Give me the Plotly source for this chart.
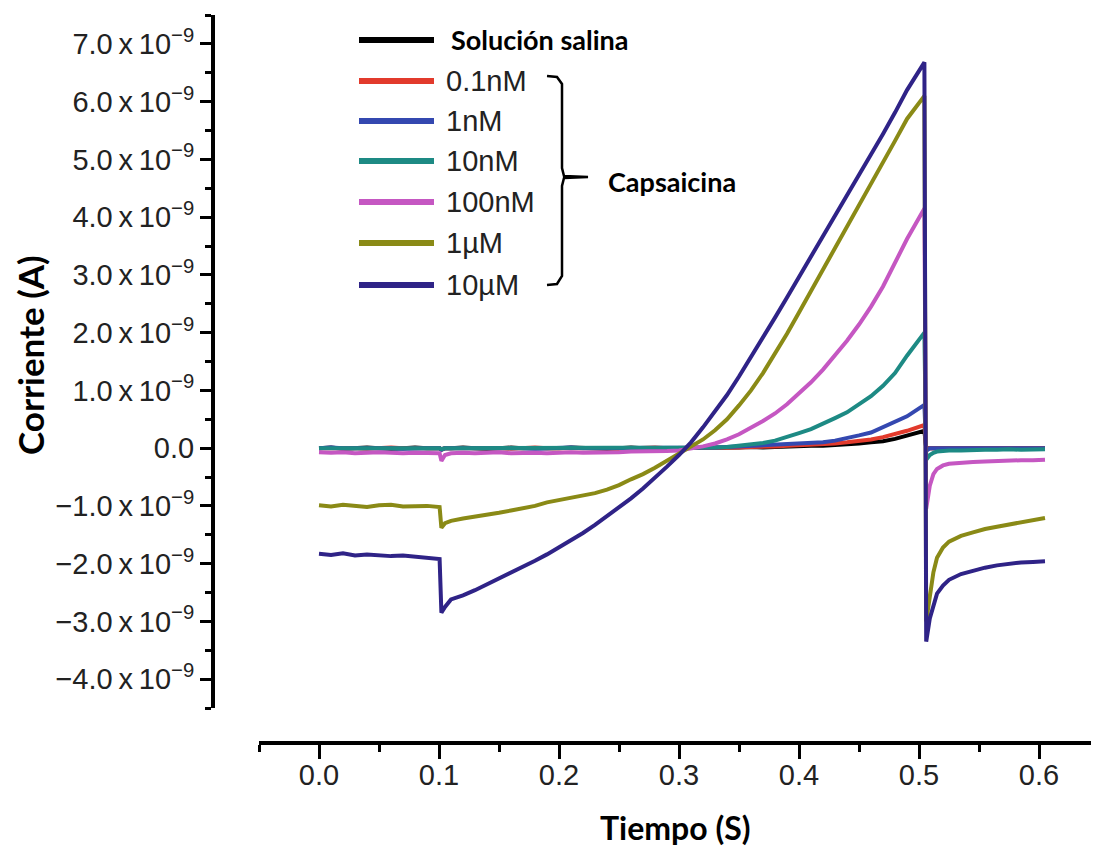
import plotly.graph_objects as go

# ---------------- data (current in nA, converted to A below) ----------------
time_s = [0.00, 0.01, 0.02, 0.03, 0.04, 0.05, 0.06, 0.07, 0.08, 0.09,
          0.1005, 0.102, 0.105,
          0.11, 0.12, 0.13, 0.14, 0.15, 0.16, 0.17, 0.18, 0.19, 0.20,
          0.21, 0.22, 0.23, 0.24, 0.25, 0.26, 0.27, 0.28, 0.29, 0.30,
          0.31, 0.32, 0.33, 0.34, 0.35, 0.36, 0.37, 0.38, 0.39, 0.40,
          0.41, 0.42, 0.43, 0.44, 0.45, 0.46, 0.47, 0.48, 0.49,
          0.5045, 0.506, 0.509, 0.512, 0.515, 0.52,
          0.525, 0.535, 0.545, 0.555, 0.565, 0.575, 0.585, 0.595, 0.605]

salina_nA = [0.00, 0.01, -0.01, 0.00, 0.01, 0.00, -0.01, 0.00, 0.01, 0.00,
             0.00, -0.02, 0.00,
             0.00, 0.01, 0.00, -0.01, 0.00, 0.01, 0.00, 0.00, -0.01, 0.00,
             0.01, 0.00, 0.00, -0.01, 0.00, 0.01, 0.00, 0.00, 0.01, 0.00,
             0.00, 0.01, 0.00, 0.01, 0.01, 0.02, 0.01, 0.02, 0.03, 0.03,
             0.04, 0.04, 0.05, 0.06, 0.08, 0.10, 0.12, 0.16, 0.21,
             0.30, 0.00, 0.00, 0.00, 0.00, 0.00,
             0.00, 0.00, 0.00, 0.00, 0.00, 0.00, 0.00, 0.00, 0.00]

c01nM_nA = [0.00, 0.00, 0.01, 0.00, -0.01, 0.00, 0.01, 0.00, 0.00, -0.01,
            0.00, -0.03, 0.00,
            0.00, 0.00, 0.01, 0.00, 0.00, -0.01, 0.00, 0.01, 0.00, 0.00,
            0.00, 0.01, 0.00, 0.00, -0.01, 0.00, 0.00, 0.01, 0.00, 0.00,
            0.00, 0.00, 0.01, 0.00, 0.01, 0.02, 0.02, 0.03, 0.04, 0.05,
            0.05, 0.07, 0.08, 0.10, 0.12, 0.15, 0.19, 0.24, 0.30,
            0.40, 0.00, 0.00, 0.00, 0.00, 0.00,
            0.00, 0.00, 0.00, 0.00, 0.00, 0.00, 0.00, 0.00, 0.00]

c1nM_nA = [0.00, 0.01, 0.00, 0.00, 0.01, 0.00, 0.00, -0.01, 0.00, 0.00,
           0.00, -0.03, 0.00,
           0.00, 0.01, 0.00, 0.00, 0.00, 0.01, 0.00, -0.01, 0.00, 0.00,
           0.01, 0.00, 0.00, 0.00, 0.01, 0.00, 0.00, 0.00, 0.01, 0.00,
           0.00, 0.01, 0.01, 0.02, 0.03, 0.03, 0.04, 0.05, 0.06, 0.07,
           0.08, 0.10, 0.13, 0.17, 0.22, 0.27, 0.36, 0.45, 0.55,
           0.75, -0.05, 0.00, 0.00, 0.00, 0.00,
           0.00, 0.00, 0.00, 0.00, 0.00, 0.00, 0.00, 0.00, 0.00]

c10nM_nA = [0.00, 0.00, 0.01, 0.00, 0.00, 0.01, 0.00, 0.00, 0.01, 0.00,
            0.00, -0.02, 0.00,
            0.00, 0.00, 0.01, 0.00, 0.00, 0.00, 0.01, 0.00, 0.00, 0.01,
            0.00, 0.00, 0.01, 0.00, 0.00, 0.00, 0.01, 0.00, 0.00, 0.01,
            0.00, 0.01, 0.01, 0.02, 0.04, 0.06, 0.09, 0.13, 0.19, 0.26,
            0.33, 0.42, 0.52, 0.62, 0.75, 0.90, 1.08, 1.30, 1.60,
            2.00, -0.20, -0.12, -0.08, -0.06, -0.05,
            -0.04, -0.04, -0.03, -0.03, -0.03, -0.02, -0.03, -0.02, -0.02]

c100nM_nA = [-0.07, -0.08, -0.07, -0.09, -0.08, -0.07, -0.08, -0.09, -0.08, -0.08,
             -0.09, -0.22, -0.12,
             -0.09, -0.08, -0.09, -0.08, -0.07, -0.09, -0.08, -0.08, -0.09, -0.08,
             -0.07, -0.08, -0.08, -0.07, -0.07, -0.06, -0.06, -0.05, -0.05, -0.04,
             -0.01, 0.03, 0.08, 0.15, 0.24, 0.35, 0.47, 0.60, 0.76, 0.95,
             1.14, 1.36, 1.60, 1.86, 2.14, 2.45, 2.80, 3.20, 3.62,
             4.15, -1.05, -0.65, -0.45, -0.36, -0.30,
             -0.27, -0.25, -0.24, -0.23, -0.22, -0.22, -0.21, -0.21, -0.20]

c1uM_nA = [-0.99, -1.01, -0.98, -1.00, -1.02, -0.99, -0.98, -1.01, -1.00, -1.00,
           -1.02, -1.38, -1.30,
           -1.26, -1.22, -1.19, -1.15, -1.12, -1.08, -1.04, -1.00, -0.94, -0.90,
           -0.86, -0.82, -0.78, -0.72, -0.64, -0.54, -0.45, -0.34, -0.22, -0.10,
           0.03, 0.15, 0.31, 0.50, 0.74, 1.00, 1.30, 1.63, 1.98, 2.35,
           2.72, 3.08, 3.45, 3.82, 4.18, 4.55, 4.92, 5.32, 5.70,
           6.10, -3.00, -2.55, -2.15, -1.90, -1.72,
           -1.62, -1.52, -1.46, -1.40, -1.36, -1.32, -1.28, -1.24, -1.21]

c10uM_nA = [-1.83, -1.85, -1.82, -1.86, -1.84, -1.85, -1.87, -1.86, -1.88, -1.89,
            -1.92, -2.85, -2.75,
            -2.62, -2.55, -2.46, -2.36, -2.26, -2.16, -2.05, -1.95, -1.84, -1.72,
            -1.60, -1.47, -1.33, -1.18, -1.03, -0.87, -0.70, -0.52, -0.32, -0.12,
            0.10, 0.36, 0.63, 0.92, 1.24, 1.57, 1.91, 2.26, 2.61, 2.96,
            3.31, 3.66, 4.01, 4.36, 4.72, 5.08, 5.44, 5.81, 6.20,
            6.68, -3.35, -2.95, -2.70, -2.52, -2.38,
            -2.28, -2.18, -2.12, -2.07, -2.03, -2.00, -1.98, -1.97, -1.96]

series_names = ["Solución salina", "0.1nM", "1nM", "10nM", "100nM", "1µM", "10µM"]
series_values = [salina_nA, c01nM_nA, c1nM_nA, c10nM_nA, c100nM_nA, c1uM_nA, c10uM_nA]
series_colors = ["#000000", "#e23a2c", "#3448b0", "#1d8a84", "#c557c2", "#8a8a16", "#2f2387"]

y_tick_vals = [-4, -3, -2, -1, 0, 1, 2, 3, 4, 5, 6, 7]
y_minor_vals = [-4.5, -3.5, -2.5, -1.5, -0.5, 0.5, 1.5, 2.5, 3.5, 4.5, 5.5, 6.5, 7.5]
x_tick_vals = [0.0, 0.1, 0.2, 0.3, 0.4, 0.5, 0.6]
x_minor_vals = [-0.05, 0.05, 0.15, 0.25, 0.35, 0.45, 0.55]

# ---------------- layout geometry (screen px; page body has an 8 px margin) ----------------
W, H = 1099, 853
OFF = 8
AX_LEFT, AX_TOP, AX_BOTTOM, AX_RIGHT = 213, 15, 743, 1099   # screen pixels
ML = AX_LEFT - OFF
MT = AX_TOP - OFF
MB = H - (AX_BOTTOM - OFF)
MR = W - (AX_RIGHT - OFF)
PW, PH = W - ML - MR, H - MT - MB


def px(x):
    return (x - OFF - ML) / PW


def py(y):
    return (H - MB - (y - OFF)) / PH


def ytext(v):
    if v == 0:
        return "0.0"
    s = f"{abs(v):.1f}\u2009x\u200910<sup>−9</sup>"
    return ("−" + s) if v < 0 else s


fig = go.Figure()
for name, vals, col in zip(series_names, series_values, series_colors):
    fig.add_trace(go.Scatter(
        x=time_s, y=[v * 1e-9 for v in vals], mode="lines", name=name,
        line=dict(color=col, width=4), showlegend=False,
        xaxis="x", yaxis="y"))

fig.update_layout(
    width=W, height=H,
    margin=dict(l=ML, r=MR, t=MT, b=MB),
    paper_bgcolor="white", plot_bgcolor="white",
    showlegend=False,
    xaxis=dict(
        domain=[px(259), 1], range=[-0.05, 0.65],
        anchor="free", position=0,
        showline=True, linecolor="black", linewidth=4,
        showgrid=False, zeroline=False,
        ticks="outside", ticklen=14, tickwidth=3, tickcolor="black",
        tickvals=x_tick_vals, ticktext=[f"{v:.1f}" for v in x_tick_vals],
        ticklabelstandoff=-9,
        tickfont=dict(family="Liberation Sans, Arial, sans-serif", size=29, color="#222222"),
        minor=dict(tickvals=x_minor_vals, ticks="outside", ticklen=7,
                   tickwidth=3, tickcolor="black", showgrid=False),
    ),
    yaxis=dict(
        domain=[py(708), 1], range=[-4.5e-9, 7.5e-9],
        anchor="free", position=0,
        showline=True, linecolor="black", linewidth=4,
        showgrid=False, zeroline=False,
        ticks="outside", ticklen=11, tickwidth=3, tickcolor="black",
        tickvals=[v * 1e-9 for v in y_tick_vals],
        ticktext=[ytext(v) for v in y_tick_vals],
        tickfont=dict(family="Liberation Sans, Arial, sans-serif", size=29, color="#222222"),
        minor=dict(tickvals=[v * 1e-9 for v in y_minor_vals], ticks="outside",
                   ticklen=6, tickwidth=3, tickcolor="black", showgrid=False),
    ),
)

annotations = [
    dict(text="<b>Tiempo (S)</b>", x=px(675), y=py(827), xref="paper", yref="paper",
         showarrow=False, xanchor="center", yanchor="middle",
         font=dict(family="Lato, Open Sans, sans-serif", size=32, color="black")),
    dict(text="<b>Corriente (A)</b>", x=px(30), y=py(355), xref="paper", yref="paper",
         showarrow=False, xanchor="center", yanchor="middle", textangle=-90,
         font=dict(family="Lato, Open Sans, sans-serif", size=35, color="black")),
]

# ---------------- manual legend ----------------
legend_rows = [40, 81, 121, 161, 202, 243, 285]
shapes = []
for i, (name, col) in enumerate(zip(series_names, series_colors)):
    yy = legend_rows[i]
    shapes.append(dict(type="line", xref="paper", yref="paper",
                       x0=px(359), x1=px(434), y0=py(yy), y1=py(yy),
                       line=dict(color=col, width=6)))
    if i == 0:
        annotations.append(dict(text=f"<b>{name}</b>", x=px(449), y=py(yy),
                                xref="paper", yref="paper", showarrow=False,
                                xanchor="left", yanchor="middle",
                                font=dict(family="Lato, Open Sans, sans-serif", size=27, color="black")))
    else:
        annotations.append(dict(text=name, x=px(444), y=py(yy),
                                xref="paper", yref="paper", showarrow=False,
                                xanchor="left", yanchor="middle",
                                font=dict(family="Liberation Sans, Arial, sans-serif", size=29, color="#222222")))

# bracket for the capsaicin concentrations
pts = [(547, 76), (557, 77), (562, 84), (562, 168), (564, 176), (588, 177),
       (564, 178), (562, 186), (562, 276), (557, 284), (547, 285)]
path = "M " + " L ".join(f"{px(a):.5f},{py(b):.5f}" for a, b in pts)
shapes.append(dict(type="path", xref="paper", yref="paper", path=path,
                   line=dict(color="black", width=2.5)))
annotations.append(dict(text="<b>Capsaicina</b>", x=px(606), y=py(182),
                        xref="paper", yref="paper", showarrow=False,
                        xanchor="left", yanchor="middle",
                        font=dict(family="Lato, Open Sans, sans-serif", size=27, color="black")))

fig.update_layout(shapes=shapes, annotations=annotations)
fig.write_html("out.html")
